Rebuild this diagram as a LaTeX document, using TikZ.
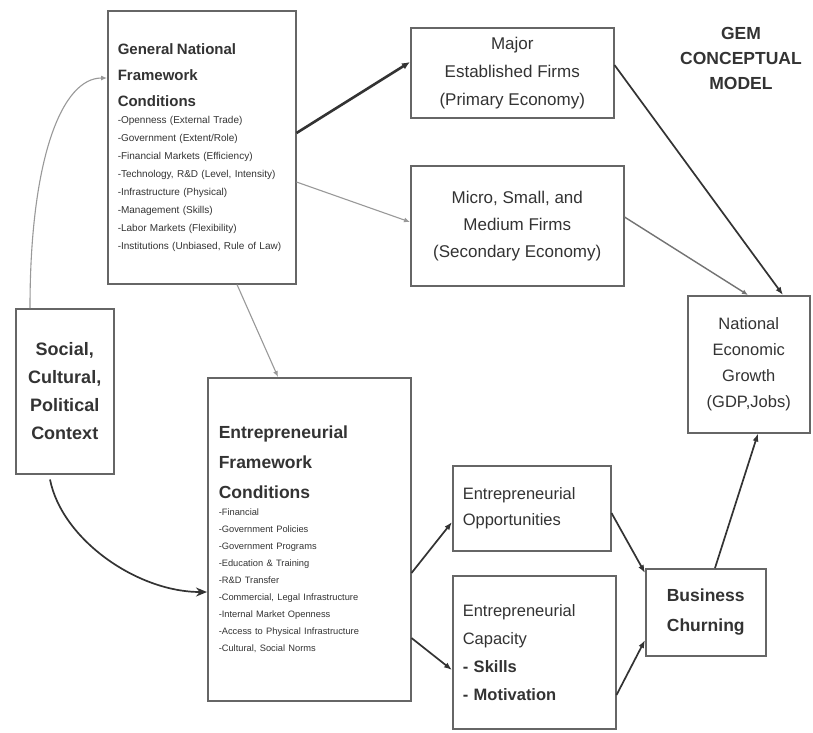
\documentclass[tikz,border=0pt]{standalone}
\usepackage{fontspec}
\setmainfont{Liberation Sans}
\usetikzlibrary{arrows.meta}

\begin{document}
\begin{tikzpicture}[x=1pt,y=-1pt,
	box/.style={draw=black!60,line width=1.5pt,fill=white,text=black!80,inner sep=0pt,anchor=north west},
	thinarr/.style={draw=black!40,line width=1.1pt,-{Latex[length=6pt,width=5pt]}},
	darkarr/.style={draw=black!80,line width=1.7pt,-{Latex[length=8pt,width=6pt]}},
	heavyarr/.style={draw=black!80,line width=2.6pt,-{Latex[length=8pt,width=7pt]}}]
				\useasboundingbox[fill=white] (0,0) rectangle (813,732);
				
				\node[box,minimum width=188pt,minimum height=273pt,text width=168pt,align=left] (gnfc) at (107,10)
					{{\fontsize{15}{26}\selectfont\bfseries General National\\Framework\\Conditions\par}
					{\fontsize{10}{17.9}\selectfont -Openness (External Trade)\\-Government (Extent/Role)\\-Financial Markets (Efficiency)\\-Technology, R\&D (Level, Intensity)\\-Infrastructure (Physical)\\-Management (Skills)\\-Labor Markets (Flexibility)\\-Institutions (Unbiased, Rule of Law)\par}};
				\node[box,minimum width=98pt,minimum height=165pt,align=center,font=\fontsize{18}{28}\selectfont\bfseries] (soc) at (15,308) {Social,\\Cultural,\\Political\\Context};
				\node[box,minimum width=203pt,minimum height=90pt,align=center,font=\fontsize{17}{28}\selectfont] (major) at (410,27) {Major\\Established Firms\\(Primary Economy)};
				\node[box,minimum width=213pt,minimum height=120pt,align=center,font=\fontsize{17}{27}\selectfont] (micro) at (410,165) {Micro, Small, and\\Medium Firms\\(Secondary Economy)};
				\node[box,minimum width=122pt,minimum height=137pt,align=center,font=\fontsize{16.5}{26}\selectfont] (neg) at (687,295) {National\\Economic\\Growth\\(GDP,Jobs)};
				\node[box,minimum width=203pt,minimum height=323pt,text width=181pt,align=left] (efc) at (207,377)
					{{\fontsize{17.5}{30}\selectfont\bfseries Entrepreneurial\\Framework\\Conditions\par}
					{\fontsize{9.3}{17.1}\selectfont -Financial\\-Government Policies\\-Government Programs\\-Education \& Training\\-R\&D Transfer\\-Commercial, Legal Infrastructure\\-Internal Market Openness\\-Access to Physical Infrastructure\\-Cultural, Social Norms\par}};
				\node[box,minimum width=158pt,minimum height=85pt,text width=138pt,align=left,font=\fontsize{16.5}{26}\selectfont] (opp) at (452,465) {Entrepreneurial\\Opportunities};
				\node[box,minimum width=163pt,minimum height=153pt,text width=143pt,align=left,font=\fontsize{16.5}{28}\selectfont] (cap) at (452,575) {Entrepreneurial\\Capacity\\\textbf{- Skills}\\\textbf{- Motivation}};
				\node[box,minimum width=120pt,minimum height=87pt,align=center,font=\fontsize{17.5}{30}\selectfont\bfseries] (bc) at (645,568) {Business\\Churning};
				\node[align=center,text=black!80,font=\fontsize{17.5}{25}\selectfont\bfseries] (gem) at (741,58) {GEM\\CONCEPTUAL\\MODEL};
				
				\draw[thinarr] ([xshift=15pt]soc.north west) .. controls +(0,-150) and +(-45,0) .. ([yshift=-68pt]gnfc.north west);
				\draw[darkarr,-{Stealth[length=11pt,width=9pt]}] ([xshift=35pt,yshift=-5pt]soc.south west) .. controls +(12,60) and +(-70,0) .. ([yshift=-215pt]efc.north west);
				\draw[heavyarr] ([yshift=-123pt]gnfc.north east) -- ([yshift=-35pt]major.north west);
				\draw[thinarr] ([yshift=-172pt]gnfc.north east) -- ([yshift=-57pt]micro.north west);
				\draw[thinarr] ([xshift=130pt]gnfc.south west) -- ([xshift=71pt]efc.north west);
				\draw[darkarr] ([yshift=-38pt]major.north east) -- ([xshift=96pt]neg.north west);
				\draw[thinarr,draw=black!55,line width=1.4pt] ([yshift=-52pt]micro.north east) -- ([xshift=61pt]neg.north west);
				\draw[darkarr] ([yshift=-196pt]efc.north east) -- ([yshift=-57pt]opp.north west);
				\draw[darkarr] ([yshift=-261pt]efc.north east) -- ([yshift=-95pt]cap.north west);
				\draw[darkarr] ([yshift=-48pt]opp.north east) -- ([yshift=-5pt]bc.north west);
				\draw[darkarr] ([yshift=-120pt]cap.north east) -- ([yshift=-72pt]bc.north west);
				\draw[darkarr] ([xshift=70pt]bc.north west) -- ([xshift=71pt]neg.south west);
			\end{tikzpicture}
\end{document}
